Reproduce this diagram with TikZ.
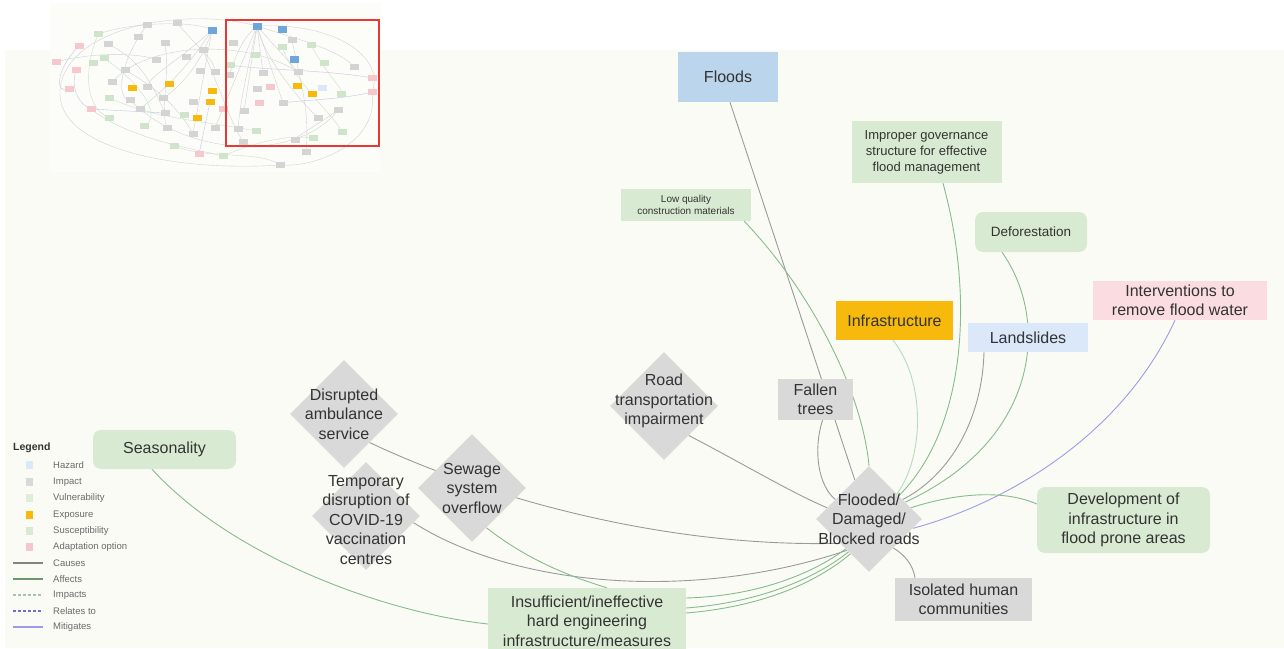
\documentclass[tikz,border=0pt]{standalone}
\usepackage{fontspec}
\setmainfont{Liberation Sans}
\usetikzlibrary{shapes.geometric}

\definecolor{txt}{HTML}{333333}
\definecolor{legtxt}{HTML}{6A6A6A}
\definecolor{cream}{HTML}{FBFBF6}
\definecolor{insetbg}{HTML}{FCFCF9}
\definecolor{hazardA}{HTML}{BAD5EC}
\definecolor{hazardB}{HTML}{DAE8FA}
\definecolor{impact}{HTML}{D9D9D9}
\definecolor{vuln}{HTML}{E0EED9}
\definecolor{suscept}{HTML}{D9EAD3}
\definecolor{expo}{HTML}{F6B90C}
\definecolor{adapt}{HTML}{FBDDE1}
\definecolor{adaptsw}{HTML}{F6C8CE}
\definecolor{causes}{HTML}{9A9A9A}
\definecolor{affects}{HTML}{86BC8A}
\definecolor{impacts}{HTML}{B6DBBE}
\definecolor{relates}{HTML}{6E6ECC}
\definecolor{mitig}{HTML}{9C9CE6}
\definecolor{tgrey}{HTML}{D2D2D2}
\definecolor{tgreen}{HTML}{C8E2C8}
\definecolor{tblue}{HTML}{C4C4EE}
\definecolor{tbox}{HTML}{D4D4D4}
\definecolor{tgbox}{HTML}{CFE5CB}
\definecolor{tblueb}{HTML}{6FA6D9}
\definecolor{redframe}{HTML}{E53935}

\pgfdeclarelayer{bg}
\pgfdeclarelayer{edges}
\pgfsetlayers{bg,edges,main}

\tikzset{
  box/.style={draw=none, align=center, inner sep=0pt, text=txt,
    font=\fontsize{16}{19.5}\selectfont},
  hazardbox/.style={box, fill=hazardA},
  hazardlight/.style={box, fill=hazardB},
  impactbox/.style={box, fill=impact},
  suscbox/.style={box, fill=suscept},
  suscround/.style={box, fill=suscept, rounded corners=8pt},
  expobox/.style={box, fill=expo},
  adaptbox/.style={box, fill=adapt},
  impactdiam/.style={diamond, fill=impact, draw=none, inner sep=0pt,
    minimum width=108pt, minimum height=108pt},
  dtext/.style={align=center, text=txt, inner sep=0pt,
    font=\fontsize{16}{19.5}\selectfont},
  causeline/.style={draw=causes, line width=0.9pt},
  affectline/.style={draw=affects, line width=0.9pt},
  impactline/.style={draw=impacts, line width=0.9pt},
  mitigline/.style={draw=mitig, line width=0.9pt},
  legtext/.style={anchor=west, text=legtxt, inner sep=0pt,
    font=\fontsize{9.5}{11}\selectfont},
  legsw/.style={minimum size=7.5pt, inner sep=0pt, draw=none},
  tb/.style={minimum width=9pt, minimum height=5.5pt, inner sep=0pt, draw=none},
}

\begin{document}
\begin{tikzpicture}[x=1pt, y=-1pt]
\useasboundingbox (0,0) rectangle (1284,648);

\begin{pgfonlayer}{bg}
  \fill[white] (0,0) rectangle (1284,648);
  \fill[cream] (5,50) rectangle (1284,648);
\end{pgfonlayer}

% ---------- overview of the whole network (inset) ----------
\fill[insetbg] (50,3) rectangle (381,172);
\begin{scope}[line width=0.4pt]
  \draw[tgrey] (60,95) .. controls (58,30) and (180,5) .. (257,26);
  \draw[tgrey] (257,26) .. controls (340,22) and (385,60) .. (372,92);
  \draw[tgrey] (372,92) .. controls (380,140) and (320,168) .. (280,165);
  \draw[tgrey] (60,95) .. controls (62,150) and (180,172) .. (280,165);
  \draw[tgrey] (98,34) .. controls (140,20) and (200,22) .. (212,30);
  \draw[tgrey] (212,30) .. controls (180,60) and (150,75) .. (147,87);
  \draw[tgrey] (212,30) .. controls (200,70) and (170,95) .. (163,98);
  \draw[tgrey] (212,30) -- (193,134);
  \draw[tgrey] (212,30) .. controls (180,80) and (150,100) .. (140,109);
  \draw[tgrey] (257,26) -- (244,111);
  \draw[tgrey] (257,26) -- (215,128);
  \draw[tgrey] (257,26) -- (283,103);
  \draw[tgrey] (257,26) -- (298,72);
  \draw[tgrey] (257,26) .. controls (250,60) and (240,100) .. (238,129);
  \draw[tgrey] (257,26) .. controls (265,60) and (300,100) .. (318,118);
  \draw[tgrey] (257,26) .. controls (240,40) and (235,60) .. (229,75);
  \draw[tgrey] (257,26) -- (263,73);
  \draw[tgrey] (257,26) .. controls (300,40) and (340,50) .. (354,67);
  \draw[tgrey] (108,44) .. controls (140,60) and (150,80) .. (165,113);
  \draw[tgrey] (125,70) .. controls (160,90) and (180,110) .. (193,134);
  \draw[tgrey] (147,25) .. controls (120,60) and (115,100) .. (130,100);
  \draw[tgrey] (177,23) .. controls (200,50) and (215,60) .. (215,72);
  \draw[tgrey] (165,43) .. controls (170,80) and (160,110) .. (167,128);
  \draw[tgrey] (203,50) .. controls (220,90) and (230,120) .. (243,142);
  \draw[tgrey] (292,40) .. controls (300,80) and (310,110) .. (306,152);
  \draw[tgrey] (338,110) .. controls (310,130) and (290,140) .. (295,140);
  \draw[tgrey] (91,109) .. controls (130,140) and (200,150) .. (223,156);
  \draw[tgrey] (56,62) .. controls (100,50) and (150,55) .. (156,60);
  \draw[tgrey] (112,82) .. controls (150,40) and (250,40) .. (298,72);
  \draw[tgrey] (130,100) .. controls (190,160) and (300,160) .. (338,110);
  \draw[tgreen] (98,34) .. controls (80,80) and (90,110) .. (109,118);
  \draw[tgreen] (104,58) .. controls (150,90) and (160,120) .. (144,126);
  \draw[tgreen] (282,47) .. controls (300,90) and (330,110) .. (342,132);
  \draw[tgreen] (311,45) .. controls (330,80) and (345,90) .. (341,94);
  \draw[tgreen] (174,146) .. controls (210,160) and (260,150) .. (280,165);
  \draw[tgreen] (223,156) .. controls (260,140) and (290,135) .. (313,138);
  \draw[tgreen] (109,98) .. controls (160,120) and (200,120) .. (256,131);
  \draw[tblue] (79,46) .. controls (55,70) and (55,95) .. (69,89);
  \draw[tblue] (76,70) .. controls (70,90) and (80,105) .. (91,109);
  \draw[tblue] (91,109) -- (165,113);
  \draw[tblue] (372,78) .. controls (330,70) and (260,70) .. (230,65);
  \draw[tblue] (372,92) .. controls (340,100) and (300,100) .. (283,103);
  \draw[tblue] (199,154) -- (210,102);
\end{scope}
\foreach \p [count=\i] in {(147,25),(177,23),(138,37),(108,44),(165,43),(156,60),
  (186,57),(203,50),(125,70),(112,82),(147,87),(130,100),(163,98),(140,109),
  (165,113),(193,102),(200,71),(215,72),(229,75),(167,128),(193,134),(215,128),
  (238,129),(243,142),(244,111),(257,89),(263,73),(292,40),(233,43),(298,72),
  (283,103),(318,118),(338,110),(354,67),(295,140),(306,152),(280,165)}
  \node[tb, fill=tbox] (tg\i) at \p {};
\foreach \p [count=\i] in {(98,34),(93,63),(104,58),(109,98),(109,118),(144,126),
  (174,146),(223,156),(282,47),(311,45),(324,63),(341,94),(342,132),(313,138),
  (256,131),(184,115),(230,65),(255,55)}
  \node[tb, fill=tgbox] (tv\i) at \p {};
\foreach \p [count=\i] in {(79,46),(56,62),(76,70),(69,89),(91,109),(270,87),
  (259,103),(372,78),(372,92),(199,154),(223,109)}
  \node[tb, fill=adaptsw] (ta\i) at \p {};
\foreach \p [count=\i] in {(132,88),(169,84),(212,91),(210,102),(197,118),(297,86),(312,94)}
  \node[tb, fill=expo] (te\i) at \p {};
\foreach \p [count=\i] in {(212,30),(257,26),(282,29),(294,59)}
  \node[tb, fill=tblueb, minimum width=9pt, minimum height=7pt] (th\i) at \p {};
\node[tb, fill=hazardB] (tl1) at (322,88) {};
\draw[redframe, line width=1.8pt] (226,20) rectangle (379,146);

% ---------- nodes ----------
\node[hazardbox, minimum width=100pt, minimum height=50pt] (floods) at (728,77) {Floods};
\node[suscbox, minimum width=150pt, minimum height=62pt,
  font=\fontsize{13}{16}\selectfont] (govern) at (926.5,152)
  {Improper governance\\structure for effective\\flood management};
\node[suscbox, minimum width=130pt, minimum height=32pt,
  font=\fontsize{10}{12.5}\selectfont] (lowq) at (686,205)
  {Low quality\\construction materials};
\node[suscround, minimum width=112pt, minimum height=40pt,
  font=\fontsize{13.5}{16}\selectfont] (defor) at (1031,232) {Deforestation};
\node[adaptbox, minimum width=174pt, minimum height=39pt] (interv) at (1180,300.5)
  {Interventions to\\remove flood water};
\node[expobox, minimum width=117pt, minimum height=39pt] (infra) at (894.5,320.5)
  {Infrastructure};
\node[hazardlight, minimum width=120pt, minimum height=29pt] (lands) at (1028,337.5)
  {Landslides};
\node[impactbox, minimum width=75pt, minimum height=41pt] (fallen) at (815.5,399.5)
  {Fallen\\trees};
\node[impactdiam, label={[dtext, yshift=5pt]center:Road\\transportation\\impairment}]
  (road) at (664,406) {};
\node[impactdiam, label={[dtext]center:Disrupted\\ambulance\\service}]
  (amb) at (344,414) {};
\node[impactdiam, label={[dtext, yshift=-4pt]center:Temporary\\disruption of\\COVID-19\\vaccination\\centres}]
  (covid) at (366,516) {};
\node[impactdiam, label={[dtext]center:Sewage\\system\\overflow}]
  (sewage) at (472,488) {};
\node[impactdiam, minimum width=106pt, minimum height=106pt,
  label={[dtext]center:Flooded/\\Damaged/\\Blocked roads}] (roads) at (869,519) {};
\node[suscround, minimum width=173pt, minimum height=66pt] (devel) at (1123.5,520)
  {Development of\\infrastructure in\\flood prone areas};
\node[impactbox, minimum width=137pt, minimum height=43pt] (isol) at (963.5,599.5)
  {Isolated human\\communities};
\node[suscround, minimum width=143pt, minimum height=39pt] (season) at (164.5,449.5)
  {Seasonality};
\node[suscbox, minimum width=198pt, minimum height=66pt] (insuff) at (587,621)
  {Insufficient/ineffective\\hard engineering\\infrastructure/measures};

% ---------- connectors ----------
\begin{pgfonlayer}{edges}
  \draw[causeline] ([xshift=2pt]floods.south) -- (roads.110);
  \draw[causeline] ([xshift=7pt]fallen.south) .. controls (813,450) and (818,485) .. (roads.150);
  \draw[affectline] ([xshift=-7pt]lowq.south east) .. controls (810,290) and (862,390) .. (roads.north);
  \draw[affectline] ([xshift=16.5pt]govern.south) .. controls (975,300) and (965,430) .. (roads.38);
  \draw[impactline] ([xshift=-1.5pt]infra.south) .. controls (925,380) and (925,455) .. (roads.42);
  \draw[causeline] ([xshift=-44pt]lands.south) .. controls (982,420) and (950,475) .. (roads.30);
  \draw[affectline] ([xshift=-29pt]defor.south) .. controls (1050,320) and (1040,440) .. (roads.25);
  \draw[mitigline] ([xshift=-5pt]interv.south) .. controls (1120,440) and (1000,505) .. (roads.-12);
  \draw[affectline] ([yshift=16pt]devel.west) .. controls (1000,488) and (950,495) .. (roads.15);
  \draw[causeline] (roads.-50) .. controls (905,555) and (913,565) .. ([xshift=-48.5pt]isol.north);
  \draw[causeline] (road.-50) .. controls (740,462) and (790,492) .. (roads.165);
  \draw[causeline] (amb.-48) .. controls (480,495) and (660,548) .. (roads.-140);
  \draw[causeline] (covid.-8) .. controls (520,590) and (700,600) .. (roads.-125);
  \draw[affectline] (sewage.-70) .. controls (530,562) and (575,578) .. ([xshift=20pt]insuff.north);
  \draw[affectline] ([xshift=-12.5pt]season.south) .. controls (230,555) and (380,612) .. ([yshift=-3pt]insuff.west);
  \draw[affectline] ([yshift=23pt]insuff.east) .. controls (760,596) and (815,572) .. (roads.-128);
  \draw[affectline] ([yshift=13pt]insuff.east) .. controls (765,602) and (820,575) .. (roads.-122);
  \draw[affectline] ([yshift=8pt]insuff.east) .. controls (770,606) and (822,578) .. (roads.-118);
\end{pgfonlayer}

% ---------- legend ----------
\node[anchor=west, inner sep=0pt, text=txt, font=\fontsize{10.5}{12}\bfseries] (legtitle) at (13,448) {Legend};
\node[legsw, fill=hazardB] (sw1) at (29.5,465) {};
\node[legtext] (lt1) at (53,465) {Hazard};
\node[legsw, fill=impact] (sw2) at (29.5,482) {};
\node[legtext] (lt2) at (53,482) {Impact};
\node[legsw, fill=vuln] (sw3) at (29.5,498) {};
\node[legtext] (lt3) at (53,498) {Vulnerability};
\node[legsw, fill=expo] (sw4) at (29.5,515) {};
\node[legtext] (lt4) at (53,515) {Exposure};
\node[legsw, fill=suscept] (sw5) at (29.5,531) {};
\node[legtext] (lt5) at (53,531) {Susceptibility};
\node[legsw, fill=adaptsw] (sw6) at (29.5,547) {};
\node[legtext] (lt6) at (53,547) {Adaptation option};
\draw[draw=causes!85!black, line width=1.1pt] (13,563) -- (43,563);
\node[legtext] (lt7) at (53,563) {Causes};
\draw[draw=affects!80!black, line width=1.1pt] (13,579) -- (43,579);
\node[legtext] (lt8) at (53,579) {Affects};
\draw[draw=impacts!90!black, line width=1.1pt, dash pattern=on 2.5pt off 2.5pt] (13,595) -- (43,595);
\node[legtext] (lt9) at (53,595) {Impacts};
\draw[draw=relates, line width=1.1pt, dash pattern=on 2.5pt off 2.5pt] (13,611) -- (43,611);
\node[legtext] (lt10) at (53,611) {Relates to};
\draw[draw=mitig, line width=1.1pt] (13,627) -- (43,627);
\node[legtext] (lt11) at (53,627) {Mitigates};
\end{tikzpicture}
\end{document}
